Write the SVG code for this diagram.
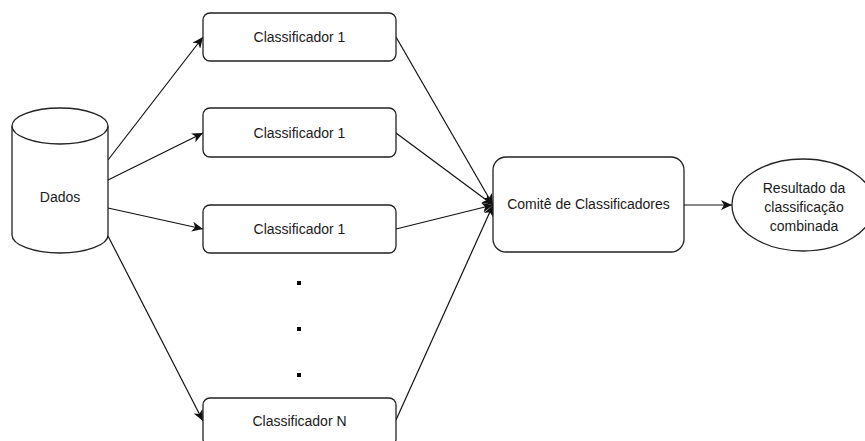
<svg xmlns="http://www.w3.org/2000/svg" width="865" height="441" viewBox="0 0 865 441">
<style>
.n{fill:#fff;stroke:#222;stroke-width:1.3}
.t{font-family:"Liberation Sans",Arial,sans-serif;font-size:14px;fill:#1a1a1a;text-anchor:middle;dominant-baseline:central}
.e{fill:none;stroke:#111;stroke-width:1.2;marker-end:url(#a)}
</style>
<defs>
<marker id="a" markerUnits="userSpaceOnUse" markerWidth="12" markerHeight="10" refX="11" refY="5" orient="auto" viewBox="0 0 12 10">
<path d="M0,0 L11,5 L0,10 L3,5 z" fill="#111"/>
</marker>
</defs>
<g id="connectors">
<line class="e" x1="108" y1="160" x2="203" y2="37"/>
<line class="e" x1="108" y1="180" x2="203" y2="133"/>
<line class="e" x1="108" y1="208" x2="203" y2="229"/>
<line class="e" x1="108" y1="236" x2="203" y2="421"/>
<line class="e" x1="396" y1="37" x2="493" y2="205"/>
<line class="e" x1="396" y1="133" x2="493" y2="205"/>
<line class="e" x1="396" y1="229" x2="493" y2="205"/>
<line class="e" x1="396" y1="420" x2="493" y2="205"/>
<line class="e" x1="684" y1="205" x2="732" y2="205"/>
</g>
<g id="dados">
<path class="n" d="M12,126 L12,235 A48,18 0 0 0 108,235 L108,126 A48,18 0 0 0 12,126 Z"/>
<path class="n" fill="none" d="M12,126 A48,18 0 0 0 108,126"/>
<text class="t" x="60" y="197">Dados</text>
</g>
<g id="c1">
<rect class="n" x="203" y="13" width="193" height="48" rx="7"/>
<text class="t" x="299.5" y="37">Classificador 1</text>
</g>
<g id="c2">
<rect class="n" x="203" y="108" width="193" height="49" rx="7"/>
<text class="t" x="299.5" y="133">Classificador 1</text>
</g>
<g id="c3">
<rect class="n" x="203" y="205" width="193" height="48" rx="7"/>
<text class="t" x="299.5" y="229">Classificador 1</text>
</g>
<g id="dots">
<rect x="297" y="281" width="4" height="4" fill="#000"/>
<rect x="297" y="327" width="4" height="4" fill="#000"/>
<rect x="297" y="373" width="4" height="4" fill="#000"/>
</g>
<g id="cn">
<rect class="n" x="203" y="398" width="193" height="48" rx="7"/>
<text class="t" x="299.5" y="421">Classificador N</text>
</g>
<g id="comite">
<rect class="n" x="493" y="157" width="191" height="95" rx="13"/>
<text class="t" x="588.5" y="204">Comitê de Classificadores</text>
</g>
<g id="resultado">
<ellipse class="n" cx="803" cy="205" rx="71" ry="46"/>
<text class="t" x="804" y="188">Resultado da</text>
<text class="t" x="804" y="207">classificação</text>
<text class="t" x="804" y="226">combinada</text>
</g>
</svg>
